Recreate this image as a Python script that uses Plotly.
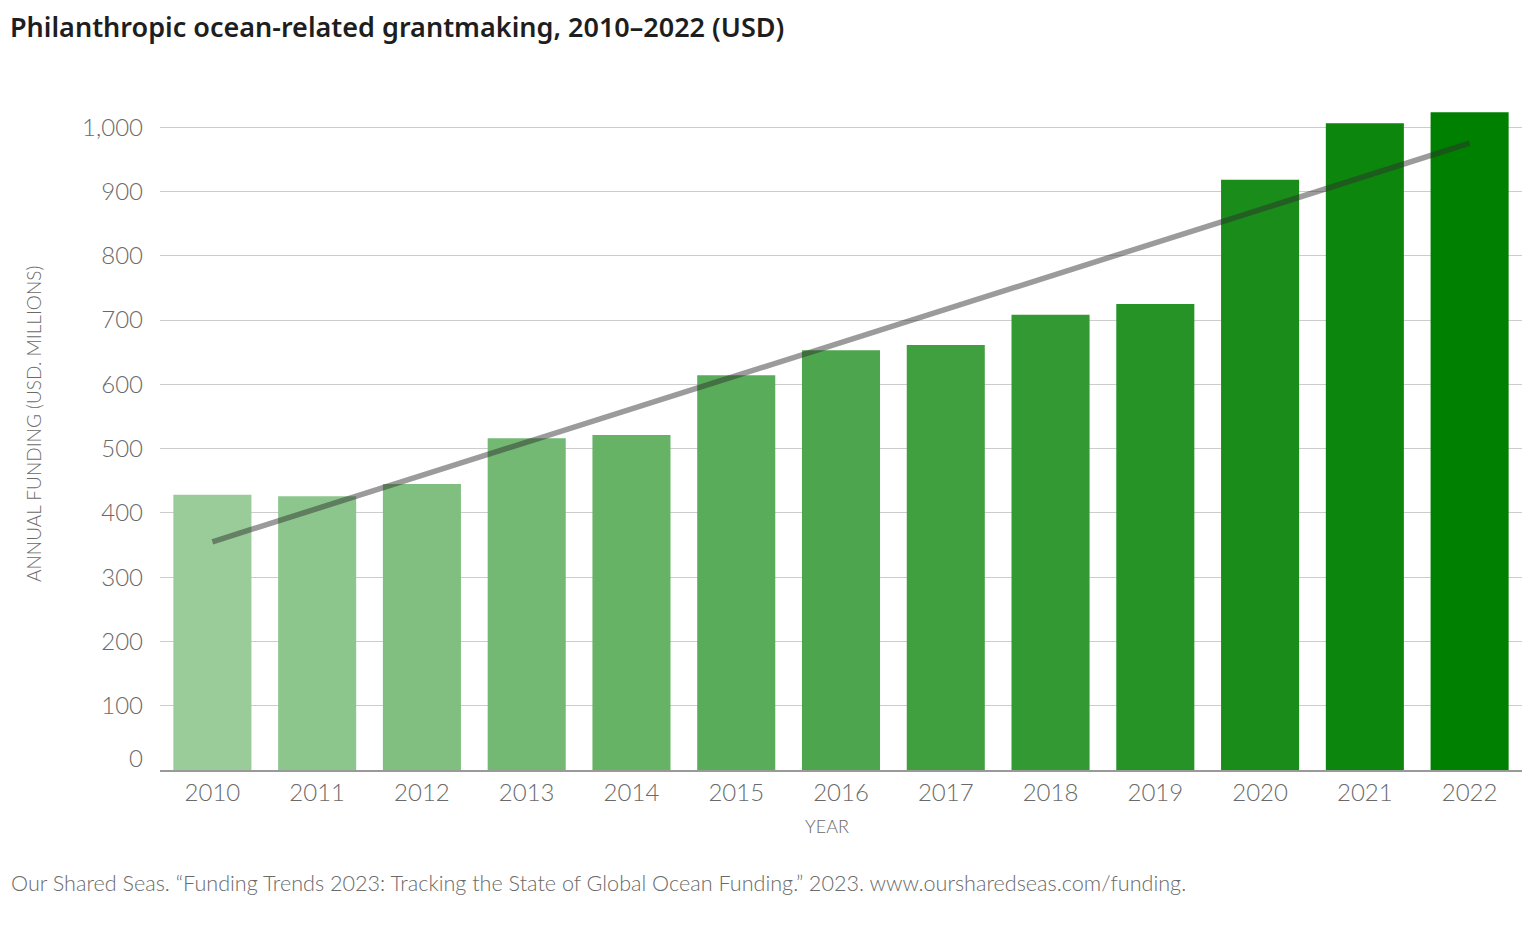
import plotly.graph_objects as go

years = ["2010", "2011", "2012", "2013", "2014", "2015", "2016", "2017", "2018", "2019", "2020", "2021", "2022"]
funding = [428, 426, 445, 516, 521, 614, 653, 661, 708, 725, 918, 1006, 1023]
trend_years = ["2010", "2022"]
trend_values = [355, 975]
bar_colors = ["#99cc99", "#8cc68c", "#80bf80", "#73b973", "#66b366", "#59ac59", "#4da64d", "#40a040", "#339933", "#269326", "#1a8c1a", "#0d860d", "#008000"]
y_ticks = [100, 200, 300, 400, 500, 600, 700, 800, 900, 1000]
y_ticklabels = ["100", "200", "300", "400", "500", "600", "700", "800", "900", "1,000"]

OFF = 8  # page body margin
W, H = 1520, 931
L, T = 160 - OFF, 95 - OFF
R = W - (1522 - OFF)
B = H - (770 - OFF)
plot_h = H - T - B
plot_w = W - L - R
ymax = 1050

def py(pix):
    return (H - B - (pix - OFF)) / plot_h

def px(pix):
    return ((pix - OFF) - L) / plot_w

fig = go.Figure()
fig.add_trace(go.Bar(x=years, y=funding, marker=dict(color=bar_colors, line=dict(width=0)),
                     hoverinfo="x+y"))
fig.add_trace(go.Scatter(x=trend_years, y=trend_values, mode="lines",
                         line=dict(color="rgba(45,45,45,0.48)", width=5.5), hoverinfo="skip"))

gray = "#6a6a6a"
font = "Lato, 'Open Sans', sans-serif"

fig.update_layout(
    width=W, height=H,
    margin=dict(l=L, r=R, t=T, b=B),
    paper_bgcolor="white", plot_bgcolor="white",
    showlegend=False,
    bargap=0.255,
    font=dict(family=font, color=gray, weight=300),
    xaxis=dict(type="category", showgrid=False, showline=True, linecolor="#999999", linewidth=1.5,
               tickfont=dict(size=24, color=gray, weight=300), ticks="", ticklabelstandoff=0),
    yaxis=dict(range=[0, ymax], tickvals=y_ticks, ticktext=y_ticklabels, showgrid=True,
               gridcolor="#cccccc", gridwidth=1, zeroline=False, showline=False,
               tickfont=dict(size=24, color=gray, weight=300), ticklabelstandoff=16),
    annotations=[
        dict(text="Philanthropic ocean-related grantmaking, 2010–2022 (USD)", xref="paper", yref="paper",
             x=px(8), y=py(27), xanchor="left", yanchor="middle", showarrow=False,
             font=dict(family="'Noto Sans', sans-serif", size=27, color="#1e1e1e", weight=600)),
        dict(text="0", xref="paper", yref="paper", x=px(145), y=py(757), xanchor="right", yanchor="middle",
             showarrow=False, font=dict(size=24, color=gray, weight=300)),
        dict(text="ANNUAL FUNDING (USD. MILLIONS)", xref="paper", yref="paper", x=px(33), y=py(424),
             xanchor="center", yanchor="middle", textangle=-90, showarrow=False,
             font=dict(size=19, color=gray, weight=300)),
        dict(text="YEAR", xref="paper", yref="paper", x=px(827), y=py(826), xanchor="center",
             yanchor="middle", showarrow=False, font=dict(size=18, color=gray, weight=300)),
        dict(text="Our Shared Seas. “Funding Trends 2023: Tracking the State of Global Ocean Funding.” 2023. www.oursharedseas.com/funding.",
             xref="paper", yref="paper", x=px(9), y=py(883), xanchor="left", yanchor="middle",
             showarrow=False, font=dict(size=21.6, color=gray, weight=300)),
    ],
)

fig.write_html("out.html")
